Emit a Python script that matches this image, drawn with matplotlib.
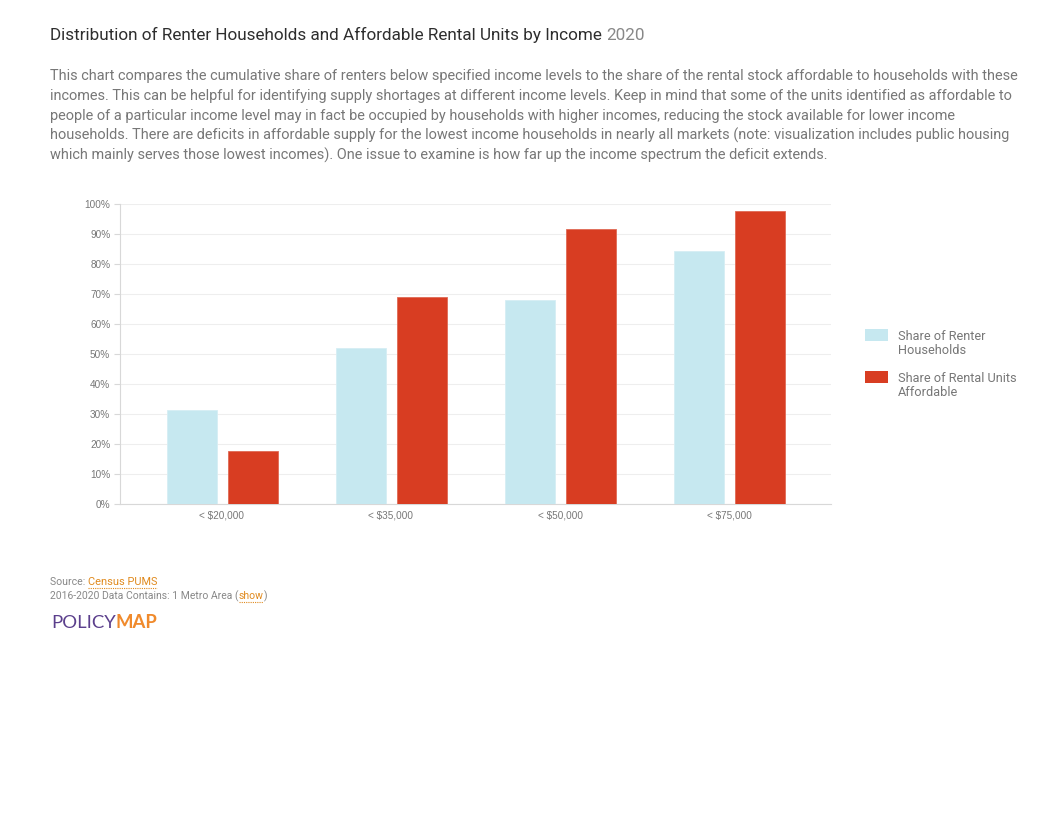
import numpy as np
import matplotlib.pyplot as plt
from matplotlib.patches import Rectangle

categories = ["< $20,000", "< $35,000", "< $50,000", "< $75,000"]
renter_share = [31.5, 52.0, 68.0, 84.5]
affordable_share = [17.8, 69.0, 91.8, 97.8]
series_names = ["Share of Renter\nHouseholds", "Share of Rental Units\nAffordable"]
colors = ["#c6e8f0", "#d83d22"]

title = "Distribution of Renter Households and Affordable Rental Units by Income"
desc_lines = [
    "This chart compares the cumulative share of renters below specified income levels to the share of the rental stock affordable to households with these",
    "incomes. This can be helpful for identifying supply shortages at different income levels. Keep in mind that some of the units identified as affordable to",
    "people of a particular income level may in fact be occupied by households with higher incomes, reducing the stock available for lower income",
    "households. There are deficits in affordable supply for the lowest income households in nearly all markets (note: visualization includes public housing",
    "which mainly serves those lowest incomes). One issue to examine is how far up the income spectrum the deficit extends.",
]

W, H = 1056, 816
fig = plt.figure(figsize=(W / 100, H / 100), dpi=100)

def fx(px):
    return px / W

def fy(py):
    return 1 - py / H

# header
t = fig.text(fx(50), fy(35), title, fontsize=12.3, color="#2e2e2e",
             family="Roboto", va="center", ha="left")
fig.canvas.draw()
bb = t.get_window_extent()
fig.text(bb.x1 / W + 0.004, fy(35), "2020", fontsize=12.3, color="#888888",
         family="Roboto", va="center", ha="left")

for i, line in enumerate(desc_lines):
    fig.text(fx(50), fy(76 + i * 19.8), line, fontsize=10.45, color="#777777",
             family="Roboto", va="center", ha="left")

# chart
ax = fig.add_axes([fx(120), fy(504), fx(831) - fx(120), fy(204) - fy(504)])
x = np.arange(len(categories))
bw = 0.295
ax.bar(x - 0.177, renter_share, bw, color=colors[0], edgecolor="#d6eef4", linewidth=0.6, zorder=3)
ax.bar(x + 0.183, affordable_share, bw, color=colors[1], edgecolor="#e06a55", linewidth=0.6, zorder=3)
ax.set_xlim(-0.6, 3.6)
ax.set_ylim(0, 100)
ax.set_yticks(np.arange(0, 101, 10))
ax.set_yticklabels([f"{v}%" for v in range(0, 101, 10)])
ax.set_xticks(x)
ax.set_xticklabels(categories)
ax.grid(axis="y", color="#eeeeee", linewidth=0.8, zorder=0)
for s in ["top", "right"]:
    ax.spines[s].set_visible(False)
ax.spines["left"].set_color("#d8d8d8")
ax.spines["bottom"].set_color("#d8d8d8")
ax.tick_params(axis="y", length=4, color="#d8d8d8", labelsize=7.2, labelcolor="#777777", pad=3)
ax.tick_params(axis="x", length=0, labelsize=7.2, labelcolor="#777777", pad=5)
for lab in ax.get_xticklabels() + ax.get_yticklabels():
    lab.set_family("Liberation Sans")

# legend
for i, (name, c) in enumerate(zip(series_names, colors)):
    top = 329 + i * 42
    fig.patches.append(Rectangle((fx(865), fy(top + 12)), fx(23), fy(top) - fy(top + 12),
                                 transform=fig.transFigure, facecolor=c, edgecolor="none"))
    fig.text(fx(898), fy(top + 1), name, fontsize=9.2, color="#777777", family="Roboto",
             va="top", ha="left", linespacing=1.15)

# footer
fs = 7.6
s = fig.text(fx(50), fy(582), "Source: ", fontsize=fs, color="#888888", family="Roboto",
             va="center", ha="left")
fig.canvas.draw()
b = s.get_window_extent()
s2 = fig.text(b.x1 / W, fy(582), "Census PUMS", fontsize=fs + 0.3, color="#e08a1e", family="Roboto",
              va="center", ha="left")
fig.canvas.draw()
b2 = s2.get_window_extent()
fig.lines.append(plt.Line2D([b.x1 / W, b2.x1 / W], [fy(588), fy(588)], transform=fig.transFigure,
                            color="#e08a1e", linestyle=(0, (1, 1)), linewidth=0.8))

p1 = fig.text(fx(50), fy(596), "2016-2020 Data Contains: 1 Metro Area (", fontsize=fs - 0.1,
              color="#888888", family="Roboto", va="center", ha="left")
fig.canvas.draw()
b = p1.get_window_extent()
p2 = fig.text(b.x1 / W, fy(596), "show", fontsize=fs - 0.1, color="#e08a1e", family="Roboto",
              va="center", ha="left")
fig.canvas.draw()
b2 = p2.get_window_extent()
fig.lines.append(plt.Line2D([b.x1 / W, b2.x1 / W], [fy(602), fy(602)], transform=fig.transFigure,
                            color="#e08a1e", linestyle=(0, (1, 1)), linewidth=0.8))
fig.text(b2.x1 / W, fy(596), ")", fontsize=fs - 0.1, color="#888888", family="Roboto",
         va="center", ha="left")

l1 = fig.text(fx(51), fy(623), "POLICY", fontsize=13.3, color="#5b3f8c", family="Lato",
              va="center", ha="left")
fig.canvas.draw()
b = l1.get_window_extent()
fig.text(b.x1 / W, fy(623), "MAP", fontsize=13.3, color="#f08a2c", family="Lato",
         weight="bold", va="center", ha="left")

fig.savefig("out.png", dpi=100)
